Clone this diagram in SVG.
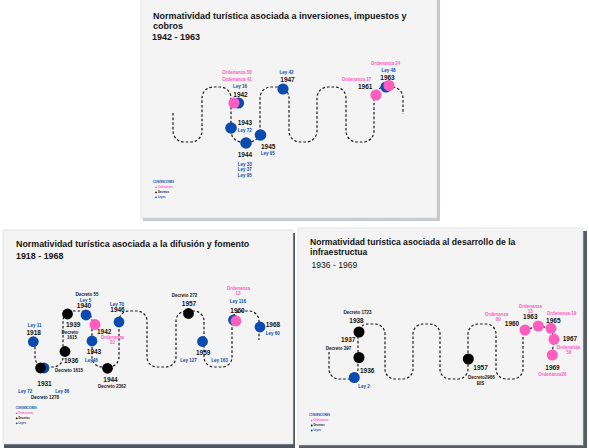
<svg xmlns="http://www.w3.org/2000/svg" width="589" height="448" viewBox="0 0 589 448">
<style>
.panel{fill:#f4f4f4;stroke:#d6d6d6;stroke-width:0.6}
.t{font-family:"Liberation Sans",Arial,sans-serif;font-weight:bold;fill:#141414}
.yrs{font-family:"Liberation Sans",Arial,sans-serif;fill:#141414}
.y{font-family:"Liberation Sans",Arial,sans-serif;font-weight:bold;font-size:6.5px;fill:#141414}
.l{font-family:"Liberation Sans",Arial,sans-serif;font-weight:bold;font-size:4.5px}
.m{text-anchor:middle}
.bt{fill:#0b4aae}.pt{fill:#ff5cc0}.kt{fill:#141414}
.b{fill:#0b4aae}.p{fill:#ff5cc0}.k{fill:#050505}
.conn{fill:none;stroke:#1a1a1a;stroke-width:1.2;stroke-dasharray:2.6 2}
.lg{font-family:"Liberation Sans",Arial,sans-serif;font-weight:bold;font-size:2.6px}
</style>
<rect width="589" height="448" fill="#ffffff"/>
<!-- panels -->
<g id="panel-top">
<rect x="143" y="0" width="297" height="221" fill="#c5c8cd"/>
<rect class="panel" x="141" y="-2" width="296" height="220"/>
<text class="t" x="153" y="19" font-size="9">Normatividad turística asociada a inversiones, impuestos y</text>
<text class="t" x="153" y="29" font-size="9">cobros</text>
<text class="yrs" x="152" y="40" font-size="9" font-weight="600">1942 - 1963</text>
</g>
<g id="panel-left">
<rect x="4" y="233" width="291" height="215" fill="#4f5560"/>
<rect class="panel" x="3" y="230" width="290" height="214"/>
<text class="t" x="16" y="247" font-size="8.9">Normatividad turística asociada a la difusión y fomento</text>
<text class="yrs" x="16" y="258.5" font-size="8.9" font-weight="600">1918 - 1968</text>
</g>
<g id="panel-right">
<rect x="299" y="231" width="288" height="217" fill="#575c66"/>
<rect class="panel" x="298" y="228" width="285" height="217"/>
<text class="t" x="310" y="245" font-size="8.6">Normatividad turística asociada al desarrollo de la</text>
<text class="t" x="310" y="255" font-size="8.6">infraestructua</text>
<text class="yrs" x="311.5" y="268" font-size="8.6">1936 - 1969</text>
</g>
<!-- connectors -->
<g id="connectors">
<path class="conn" d="M173,113 V131 A11,11 0 0 0 184,142 H191 A11,11 0 0 0 202,131 V98 A11,11 0 0 1 213,87 H220 A11,11 0 0 1 231,98 V131 A11,11 0 0 0 242,142 H249 A11,11 0 0 0 260,131 V98 A11,11 0 0 1 271,87 H278 A11,11 0 0 1 289,98 V131 A11,11 0 0 0 300,142 H306 A11,11 0 0 0 317,131 V98 A11,11 0 0 1 328,87 H335 A11,11 0 0 1 346,98 V131 A11,11 0 0 0 357,142 H363 A11,11 0 0 0 374,131 V98 A11,11 0 0 1 385,87 H392 A11,11 0 0 1 403,98 V114"/>
<path class="conn" d="M35,342 V357 A10,10 0 0 0 45,367 H53 A10,10 0 0 0 63,357 V321 A10,10 0 0 1 73,311 H82 A10,10 0 0 1 92,321 V357 A10,10 0 0 0 102,367 H109 A10,10 0 0 0 119,357 V321 A10,10 0 0 1 129,311 H137 A10,10 0 0 1 147,321 V357 A10,10 0 0 0 157,367 H166 A10,10 0 0 0 176,357 V321 A10,10 0 0 1 186,311 H194 A10,10 0 0 1 204,321 V357 A10,10 0 0 0 214,367 H222 A10,10 0 0 0 232,357 V321 A10,10 0 0 1 242,311 H249 A10,10 0 0 1 259,321 V340"/>
<path class="conn" d="M329,352 V369 A10,10 0 0 0 339,379 H348 A10,10 0 0 0 358,369 V334 A10,10 0 0 1 368,324 H375 A10,10 0 0 1 385,334 V369 A10,10 0 0 0 395,379 H403 A10,10 0 0 0 413,369 V334 A10,10 0 0 1 423,324 H430 A10,10 0 0 1 440,334 V369 A10,10 0 0 0 450,379 H458 A10,10 0 0 0 468,369 V334 A10,10 0 0 1 478,324 H486 A10,10 0 0 1 496,334 V369 A10,10 0 0 0 506,379 H513 A10,10 0 0 0 523,369 V332"/>
<path class="conn" d="M525,330 L538,326 L551,328 L554,339 L552,355"/>
</g>
<!-- top panel nodes -->
<g id="t1942">
<circle class="b" cx="238.5" cy="103" r="5.6"/><circle class="p" cx="234" cy="103" r="5.6"/>
<text class="l pt m" x="237" y="74">Ordenanza 58</text>
<text class="l pt m" x="237" y="80.5">Ordenanza 41</text>
<text class="l bt m" x="240" y="87.5">Ley 16</text>
<text class="y m" x="240.5" y="97">1942</text>
</g>
<g id="t1943">
<circle class="b" cx="231" cy="128" r="5.8"/>
<text class="y" x="237.7" y="125">1943</text>
<text class="l bt" x="237.7" y="132">Ley 72</text>
</g>
<g id="t1944">
<circle class="b" cx="246" cy="143" r="5.8"/>
<text class="y" x="237.7" y="157">1944</text>
<text class="l bt" x="237.7" y="165.5">Ley 33</text>
<text class="l bt" x="237.7" y="171">Ley 37</text>
<text class="l bt" x="237.7" y="177">Ley 95</text>
</g>
<g id="t1945">
<circle class="b" cx="260.5" cy="135" r="5.8"/>
<text class="y" x="261" y="149">1945</text>
<text class="l bt" x="260.7" y="155">Ley 95</text>
</g>
<g id="t1947">
<circle class="b" cx="283" cy="89" r="5.6"/>
<text class="l bt m" x="286.5" y="74">Ley 42</text>
<text class="y m" x="287.5" y="82">1947</text>
</g>
<g id="t1961">
<circle class="p" cx="376" cy="95" r="5.6"/>
<text class="l pt m" x="356.5" y="81">Ordenanza 17</text>
<text class="y" x="358" y="89">1961</text>
</g>
<g id="t1963">
<circle class="b" cx="386" cy="87" r="5.6"/><circle class="p" cx="389" cy="85.5" r="5.6"/>
<text class="l pt m" x="385.5" y="65">Ordenanza 24</text>
<text class="l bt m" x="388.5" y="72">Ley 48</text>
<text class="y m" x="387.5" y="80">1963</text>
</g>
<g id="legend-top">
<text class="lg bt" x="153" y="183" font-size="2.8">CONVENCIONES</text>
<circle class="p" cx="156" cy="187.3" r="0.9"/><text class="lg pt" x="158" y="188.2">Ordenanzas</text>
<circle class="k" cx="156" cy="192.3" r="0.9"/><text class="lg kt" x="158" y="193.2">Decretos</text>
<circle class="b" cx="156" cy="197.3" r="0.9"/><text class="lg bt" x="158" y="198.2">Leyes</text>
</g>
<!-- bottom-left nodes -->
<g id="l1918">
<circle class="b" cx="33.3" cy="341.7" r="5.4"/>
<text class="l bt m" x="34.7" y="327">Ley 11</text>
<text class="y m" x="33.7" y="334.5">1918</text>
</g>
<g id="l1931">
<circle class="b" cx="44" cy="368" r="5.4"/><circle class="k" cx="40.5" cy="368" r="5.4"/>
<text class="y m" x="44.5" y="386">1931</text>
<text class="l bt m" x="25.3" y="393">Ley 72</text>
<text class="l bt m" x="62.3" y="393">Ley 86</text>
<text class="l kt m" x="45" y="399">Decreto 1278</text>
</g>
<g id="l1936">
<circle class="k" cx="65" cy="351.5" r="5.4"/>
<text class="y" x="64" y="363">1936</text>
<text class="l kt" x="55" y="371.5">Decreto 1615</text>
</g>
<g id="l1939">
<circle class="k" cx="67.5" cy="314" r="5.4"/>
<text class="y" x="66" y="327">1939</text>
<text class="l kt m" x="70" y="334">Decreto</text>
<text class="l kt m" x="72" y="339">1615</text>
</g>
<g id="l1940">
<circle class="b" cx="86" cy="315" r="5.4"/>
<text class="l kt m" x="87" y="296">Decreto 55</text>
<text class="l bt m" x="85.5" y="302">Ley 5</text>
<text class="y m" x="84" y="308">1940</text>
</g>
<g id="l1942">
<circle class="p" cx="95" cy="324.5" r="5.4"/>
<text class="y" x="97" y="334">1942</text>
<text class="l pt m" x="112.5" y="339">Ordenanza</text>
<text class="l pt m" x="112.5" y="343.5">22</text>
</g>
<g id="l1943">
<circle class="b" cx="92" cy="341" r="5.4"/>
<text class="y m" x="94" y="354">1943</text>
<text class="l bt m" x="91.5" y="361.5">Ley48</text>
</g>
<g id="l1944">
<circle class="k" cx="107.5" cy="368.3" r="5.4"/>
<text class="y m" x="110.5" y="381.5">1944</text>
<text class="l kt m" x="112" y="388">Decreto 2362</text>
</g>
<g id="l1946">
<circle class="b" cx="119" cy="322" r="5.4"/>
<text class="l bt m" x="117" y="305.5">Ley 70</text>
<text class="y m" x="117.5" y="312">1946</text>
</g>
<g id="l1957">
<circle class="k" cx="188.5" cy="313.5" r="5.4"/>
<text class="l kt m" x="184.5" y="296.5">Decreto 272</text>
<text class="y m" x="189" y="305.5">1957</text>
</g>
<g id="l1959">
<circle class="b" cx="202.5" cy="341.5" r="5.4"/>
<text class="y" x="196" y="355">1959</text>
<text class="l bt m" x="188.5" y="362">Ley 127</text>
<text class="l bt m" x="219.5" y="362">Ley 163</text>
</g>
<g id="l1960">
<circle class="b" cx="233.5" cy="320" r="5.4"/><circle class="p" cx="236" cy="321" r="5.4"/>
<text class="l pt m" x="238.3" y="290">Ordenanza</text>
<text class="l pt m" x="238" y="295">13</text>
<text class="l bt m" x="238" y="303">Ley 116</text>
<text class="y m" x="237.5" y="312.5">1960</text>
</g>
<g id="l1968">
<circle class="b" cx="260" cy="327" r="5.4"/>
<text class="y" x="265.7" y="326.5">1968</text>
<text class="l bt" x="265.7" y="335">Ley 60</text>
</g>
<g id="legend-left">
<text class="lg bt" x="15.7" y="409" font-size="2.8">CONVENCIONES</text>
<circle class="p" cx="16.7" cy="413.3" r="0.9"/><text class="lg pt" x="18.5" y="414.2">Ordenanzas</text>
<circle class="k" cx="16.7" cy="418.3" r="0.9"/><text class="lg kt" x="18.5" y="419.2">Decretos</text>
<circle class="b" cx="16.7" cy="423.3" r="0.9"/><text class="lg bt" x="18.5" y="424.2">Leyes</text>
</g>
<!-- bottom-right nodes -->
<g id="r1938">
<circle class="k" cx="359" cy="332" r="5.5"/>
<text class="l kt m" x="357.5" y="314">Decreto 1723</text>
<text class="y m" x="356.5" y="323">1938</text>
<text class="y" x="341" y="341.5">1937</text>
<text class="l kt" x="325.7" y="350">Decreto 397</text>
</g>
<g id="r1936">
<circle class="k" cx="359" cy="357.5" r="5.5"/>
<text class="y" x="360" y="373">1936</text>
</g>
<g id="r-ley2">
<circle class="b" cx="354.3" cy="377.5" r="5.5"/>
<text class="l bt" x="358.3" y="388">Ley 2</text>
</g>
<g id="r1957">
<circle class="k" cx="468.3" cy="359" r="5.5"/>
<text class="y" x="473.3" y="370">1957</text>
<text class="l kt m" x="481.3" y="379">Decreto2966</text>
<text class="l kt m" x="480.5" y="385">BIS</text>
</g>
<g id="r1960">
<circle class="p" cx="525" cy="330" r="5.5"/>
<text class="l pt m" x="496.7" y="315.5">Ordenanza</text>
<text class="l pt m" x="498.3" y="321">09</text>
<text class="y m" x="512" y="325.5">1960</text>
</g>
<g id="r1963">
<circle class="p" cx="538.3" cy="326" r="5.5"/>
<text class="l pt m" x="530.3" y="308">Ordenanza</text>
<text class="l pt m" x="530.3" y="312.5">13</text>
<text class="y m" x="530.3" y="319">1963</text>
</g>
<g id="r1965">
<circle class="p" cx="551" cy="328.3" r="5.5"/>
<text class="l pt m" x="561.5" y="315">Ordenanza 19</text>
<text class="y m" x="553.3" y="323">1965</text>
</g>
<g id="r1967">
<circle class="p" cx="554" cy="339.3" r="5.5"/>
<text class="y" x="562.7" y="340.5">1967</text>
<text class="l pt m" x="568.3" y="349">Ordenanza</text>
<text class="l pt m" x="568.8" y="354">56</text>
</g>
<g id="r1969">
<circle class="p" cx="552.3" cy="355" r="5.5"/>
<text class="y m" x="552.5" y="370">1969</text>
<text class="l pt m" x="552.5" y="376">Ordenanza26</text>
</g>
<g id="legend-right">
<text class="lg bt" x="309" y="415.5" font-size="2.8">CONVENCIONES</text>
<circle class="p" cx="311.7" cy="420.5" r="0.9"/><text class="lg pt" x="313.5" y="421.4">Ordenanzas</text>
<circle class="k" cx="311.7" cy="425.5" r="0.9"/><text class="lg kt" x="313.5" y="426.4">Decretos</text>
<circle class="b" cx="311.7" cy="430.5" r="0.9"/><text class="lg bt" x="313.5" y="431.4">Leyes</text>
</g>
</svg>
